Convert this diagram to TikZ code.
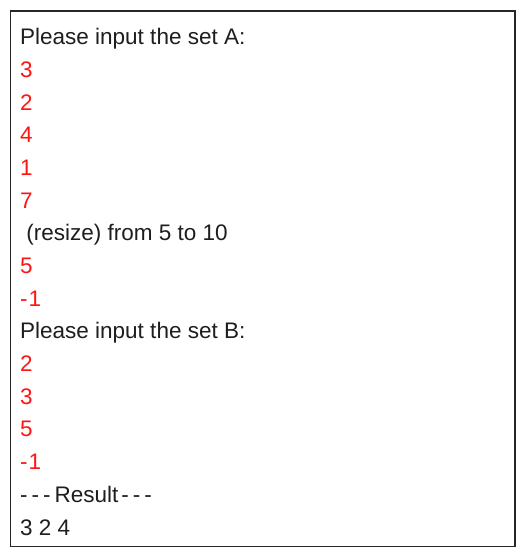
\documentclass[tikz,border=0pt]{standalone}
\usepackage{fontspec}
\setmainfont{Liberation Sans}
\definecolor{inred}{RGB}{255,20,20}
\definecolor{outtext}{RGB}{30,30,30}
\newcommand{\wdash}{-\kern4pt}

\begin{document}
\begin{tikzpicture}[x=1pt, y=1pt,
  prompt/.style={anchor=base west, inner sep=0pt, text=outtext, font=\fontsize{22.5}{24}\selectfont},
  typed/.style={prompt, text=inred}]
\useasboundingbox (0,0) rectangle (527,558);
\draw[line width=1.6pt, black!85] (10.5,11.5) rectangle (515,547);

\node[prompt] (1) at (20,513) {Please input the set A:};
\node[typed] (2) at (20,480.3) {3};
\node[typed] (3) at (20,447.7) {2};
\node[typed] (4) at (20,415) {4};
\node[typed] (5) at (20,382.3) {1};
\node[typed] (6) at (20,349.7) {7};
\node[prompt] (7) at (20,317) {\ (resize) from 5 to 10};
\node[typed] (8) at (20,284.3) {5};
\node[typed] (9) at (20,251.7) {-\kern1pt1};
\node[prompt] (10) at (20,219) {Please input the set B:};
\node[typed] (11) at (20,186.3) {2};
\node[typed] (12) at (20,153.7) {3};
\node[typed] (13) at (20,121) {5};
\node[typed] (14) at (20,88.3) {-\kern1pt1};
\node[prompt] (15) at (20,55.7) {\wdash\wdash\wdash Result\kern3pt\wdash\wdash-};
\node[prompt] (16) at (20,23) {3 2 4};
\end{tikzpicture}
\end{document}
